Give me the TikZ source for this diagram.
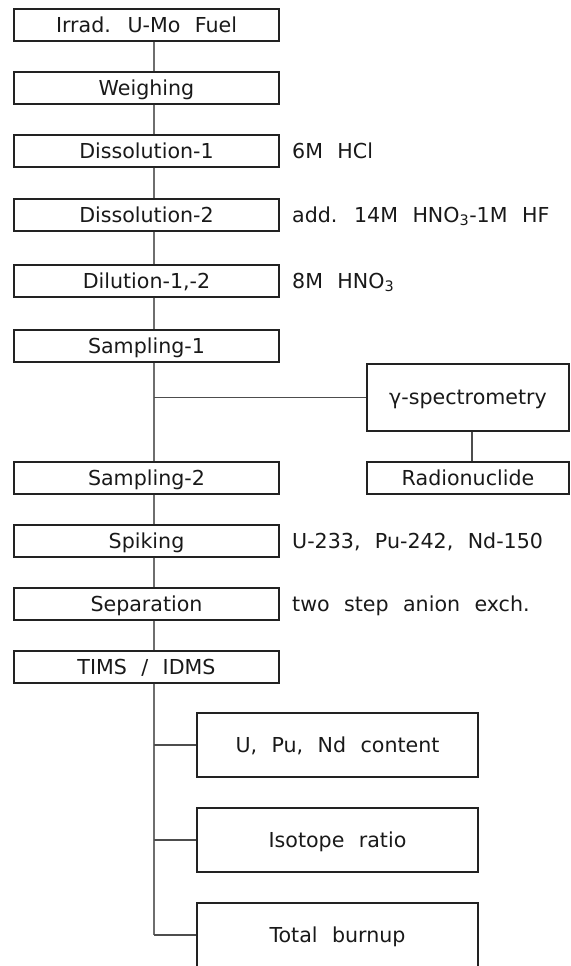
\documentclass[tikz,border=0pt]{standalone}
\usepackage{fontspec}
\setmainfont{DejaVu Sans}[WordSpace=2.2]
\definecolor{boxc}{HTML}{222222}
\definecolor{linec}{HTML}{6E6E6E}
\begin{document}
\begin{tikzpicture}[x=1pt,y=-1pt,
  every node/.style={font=\fontsize{20.6}{24}\selectfont, text height=14.5pt, text depth=0pt, inner sep=0pt, text=black!90},
  stepbox/.style={draw=boxc, line width=1.1pt, minimum width=265pt, minimum height=32pt},
  sidebox/.style={draw=boxc, line width=1.1pt, minimum width=202pt},
  outbox/.style={draw=boxc, line width=1.1pt, minimum width=281pt, minimum height=64pt},
  note/.style={anchor=west},
  spine/.style={draw=linec, line width=1.5pt},
  conn/.style={draw=linec!70!black, line width=1.2pt}]
\useasboundingbox (0,0) rectangle (570,966);
\clip (0,0) rectangle (570,966);
\coordinate (sx) at (154,0);
\coordinate (gx) at (472,0);
% main column
\node[stepbox] (irrad) at (146.5,25) {Irrad. U-Mo Fuel};
\node[stepbox] (weigh) at (146.5,88) {Weighing};
\node[stepbox] (dissa) at (146.5,151) {Dissolution-1};
\node[stepbox] (dissb) at (146.5,215) {Dissolution-2};
\node[stepbox] (dilu) at (146.5,281) {Dilution-1,-2};
\node[stepbox] (sampa) at (146.5,346) {Sampling-1};
\node[stepbox] (sampb) at (146.5,478) {Sampling-2};
\node[stepbox] (spike) at (146.5,541) {Spiking};
\node[stepbox] (sepa) at (146.5,604) {Separation};
\node[stepbox] (tims) at (146.5,667) {TIMS / IDMS};
% side notes
\node[note] (na) at (292,151) {6M HCl};
\node[note] (nb) at (292,215) {add. 14M HNO\textsubscript{3}-1M HF};
\node[note] (nc) at (292,281) {8M HNO\textsubscript{3}};
\node[note] (nd) at (292,541) {U-233, Pu-242, Nd-150};
\node[note] (ne) at (292,604) {two step anion exch.};
% gamma branch
\node[sidebox, minimum height=67pt] (gamma) at (468,397.5) {γ-spectrometry};
\node[sidebox, minimum height=32pt] (radio) at (468,478) {Radionuclide};
% outputs
\node[outbox] (upnd) at (337.5,745) {U, Pu, Nd content};
\node[outbox] (iso) at (337.5,840) {Isotope ratio};
\node[outbox] (total) at (337.5,935) {Total burnup};
% connectors
\foreach \a/\b in {irrad/weigh, weigh/dissa, dissa/dissb, dissb/dilu, dilu/sampa, sampa/sampb, sampb/spike, spike/sepa, sepa/tims}
  \draw[spine] (\a.south -| sx) -- (\b.north -| sx);
\draw[conn] (gamma.west -| sx) -- (gamma.west);
\draw[conn] (gamma.south -| gx) -- (radio.north -| gx);
\draw[spine] (tims.south -| sx) -- (total.west -| sx);
\draw[conn] (upnd.west -| sx) -- (upnd.west);
\draw[conn] (iso.west -| sx) -- (iso.west);
\draw[conn] (total.west -| sx) -- (total.west);
\end{tikzpicture}
\end{document}
